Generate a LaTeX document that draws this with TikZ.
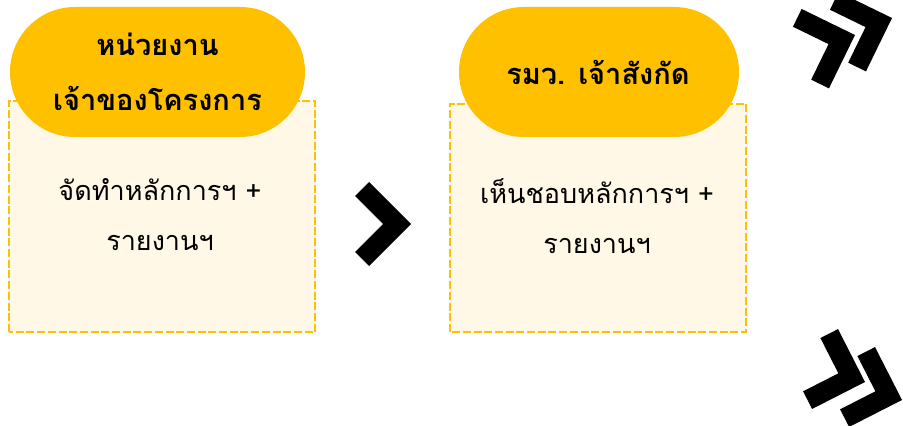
\documentclass[tikz,border=0pt]{standalone}
\usepackage{fontspec}
\newfontfamily\thaifont[Script=Thai]{Loma}
\definecolor{gold}{HTML}{FFC000}
\definecolor{cream}{HTML}{FFF8E6}
\tikzset{
  dashbox/.style={draw=gold, fill=cream, line width=2.7pt, dash pattern=on 8pt off 2.7pt},
  pill/.style={fill=gold, rounded corners=64.9pt, inner sep=0pt},
  titletext/.style={font=\thaifont\bfseries\fontsize{29}{55}\selectfont, align=center, text=black},
  bodytext/.style={font=\thaifont\fontsize{27}{50}\selectfont, align=center, text=black},
  chev/.pic={\fill[black] (0,0) -- (-42,42) -- (-56,28) -- (-28,0) -- (-56,-28) -- (-42,-42) -- cycle;}
}
\begin{document}
\begin{tikzpicture}[x=1pt,y=1pt]
\useasboundingbox (0,0) rectangle (903,426);
% box 1
\draw[dashbox] (9,94) rectangle (315,325);
\node[pill, minimum width=295pt, minimum height=130pt] (p1) at (157.5,354) {};
\node[titletext] (t1) at (157.5,354) {หน่วยงาน\\เจ้าของโครงการ};
\node[bodytext] (b1) at (160,211) {จัดทำหลักการฯ +\\รายงานฯ};
% box 2
\draw[dashbox] (450,94) rectangle (746,322);
\node[pill, minimum width=280pt, minimum height=130pt] (p2) at (599,354) {};
\node[titletext] (t2) at (598,354) {รมว. เจ้าสังกัด};
\node[bodytext] (b2) at (597,210) {เห็นชอบหลักการฯ +\\รายงานฯ};
% chevrons
\pic at (411,202) {chev};
\pic[rotate=19] at (855,391) {chev};
\pic[rotate=19] at (892,408) {chev};
\pic[rotate=-18] at (865,44) {chev};
\pic[rotate=-18] at (902,26) {chev};
\end{tikzpicture}
\end{document}
